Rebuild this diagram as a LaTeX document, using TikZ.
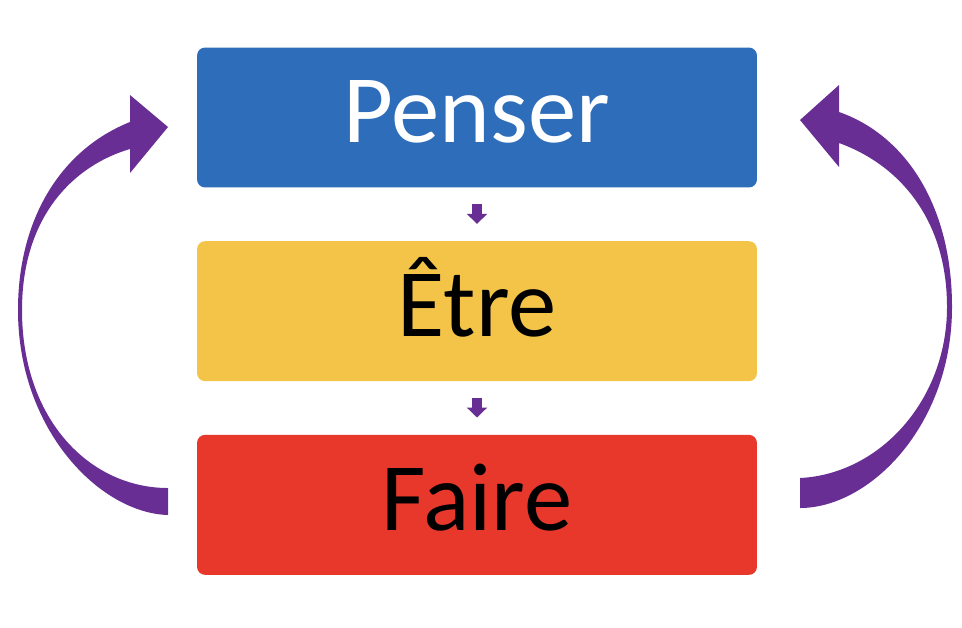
\documentclass[tikz,border=0pt]{standalone}
\usepackage{fontspec}
\setmainfont{Carlito}
\usetikzlibrary{positioning,arrows.meta}

\definecolor{penserblue}{RGB}{46,109,185}
\definecolor{etreyellow}{RGB}{243,196,72}
\definecolor{fairered}{RGB}{232,56,44}
\definecolor{loopviolet}{RGB}{104,46,148}

\tikzset{
    stage/.style={rectangle, rounded corners=0.16cm, minimum width=11.2cm, minimum height=2.8cm,
        font=\fontsize{55}{60}\selectfont, text height=35pt, text depth=6pt},
    flow/.style={draw=loopviolet, line width=0.21cm, -{Triangle[length=0.2cm,width=0.4cm]},
        shorten <=0.32cm, shorten >=0.34cm},
    cyclearrow/.style={fill=loopviolet},
}

\begin{document}
\begin{tikzpicture}[x=0.02cm, y=-0.02cm]
    \useasboundingbox (0,0) rectangle (962,627);

    \node[stage, fill=penserblue, text=white] (penser) at (477,117.5) {Penser};
    \node[stage, fill=etreyellow, below=1.06cm of penser] (etre) {Être};
    \node[stage, fill=fairered, below=1.06cm of etre] (faire) {Faire};

    \draw[flow] (penser) -- (etre);
    \draw[flow] (etre) -- (faire);

    % left loop, faire back to penser
    \fill[cyclearrow] (168,515) .. controls (100,513) and (18,430) .. (18,310)
        .. controls (18,220) and (60,150) .. (130,122) -- (130,95) -- (168,127) -- (130,173) -- (130,149)
        .. controls (75,165) and (22,215) .. (22,310)
        .. controls (22,420) and (90,488) .. (168,488) -- cycle;

    % right loop
    \fill[cyclearrow] (800,508) .. controls (870,508) and (952,425) .. (952,307)
        .. controls (952,205) and (905,135) .. (839,112) -- (839,85) -- (800,120) -- (839,167) -- (839,143)
        .. controls (900,165) and (947,220) .. (947,307)
        .. controls (947,400) and (880,474) .. (800,478) -- cycle;
\end{tikzpicture}
\end{document}
